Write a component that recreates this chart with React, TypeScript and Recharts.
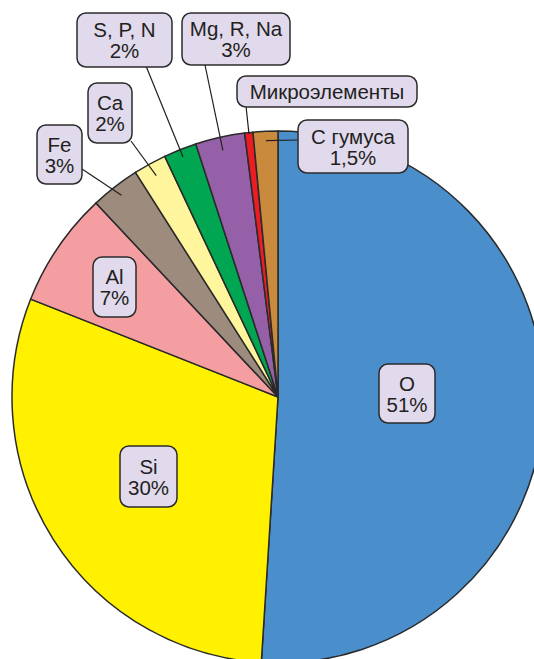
import { Cell, Pie, PieChart } from "recharts";

const ELEMENTS = ["O", "Si", "Al", "Fe", "Ca", "S, P, N", "Mg, R, Na", "Микроэлементы", "C гумуса"];
const SHARES = [51, 30, 7, 3, 2, 2, 3, 0.5, 1.5];
const SHARE_LABELS = ["51%", "30%", "7%", "3%", "2%", "2%", "3%", "", "1,5%"];
const COLORS = [
  "#4a8ecc",
  "#fff100",
  "#f59ea2",
  "#9d8b7e",
  "#fff59c",
  "#00a651",
  "#9660a8",
  "#ed1c24",
  "#c98a3e"
];

// label box placement (page px) and where the leader line leaves the box
const LABEL_LAYOUT = [
  { x: 379, y: 364, w: 56, h: 59, line: null },
  { x: 120, y: 446, w: 57, h: 61, line: null },
  { x: 93, y: 257, w: 43, h: 60, line: null },
  { x: 37, y: 125, w: 45, h: 59, line: { x: 82, y: 169, reach: 0.96 } },
  { x: 88, y: 83, w: 44, h: 60, line: { x: 131, y: 141, reach: 0.95 } },
  { x: 77, y: 13, w: 95, h: 54, line: { x: 146, y: 66, reach: 0.97 } },
  { x: 182, y: 13, w: 108, h: 52, line: { x: 205, y: 65, reach: 0.95 } },
  { x: 237, y: 76, w: 180, h: 31, line: { x: 246, y: 106, reach: 0.995 } },
  { x: 298, y: 120, w: 110, h: 53, line: { x: 298, y: 140, reach: 0.965 } }
];

const data = ELEMENTS.map((name, i) => ({ name, value: SHARES[i], share: SHARE_LABELS[i] }));

const RAD = Math.PI / 180;
const FONT = "Arial, 'Liberation Sans', Helvetica, sans-serif";

function renderLabel(props: any) {
  const { cx, cy, midAngle, outerRadius, index } = props;
  const box = LABEL_LAYOUT[index];
  const item = data[index];
  const lines = item.share ? [item.name, item.share] : [item.name];
  let leader = null;
  if (box.line) {
    const r = outerRadius * box.line.reach;
    const ex = cx + Math.cos(-midAngle * RAD) * r;
    const ey = cy + Math.sin(-midAngle * RAD) * r;
    leader = <line x1={box.line.x} y1={box.line.y} x2={ex} y2={ey} stroke="#231f20" strokeWidth={1.2} />;
  }
  const midY = box.y + box.h / 2;
  const lineGap = 21;
  const firstBaseline = midY - ((lines.length - 1) * lineGap) / 2 + 7.5;
  return (
    <g key={`lbl-${index}`}>
      {leader}
      <rect
        x={box.x}
        y={box.y}
        width={box.w}
        height={box.h}
        rx={9}
        ry={9}
        fill="#e1d9ec"
        stroke="#2b2b2b"
        strokeWidth={1.5}
      />
      {lines.map((t, k) => (
        <text
          key={k}
          x={box.x + box.w / 2}
          y={firstBaseline + k * lineGap}
          textAnchor="middle"
          fontFamily={FONT}
          fontSize={20.5}
          fill="#231f20"
        >
          {t}
        </text>
      ))}
    </g>
  );
}

export default function App() {
  return (
    <div style={{ position: "absolute", left: 0, top: 0, width: 534, height: 659, background: "#fff" }}>
      <PieChart width={534} height={659} margin={{ top: 0, right: 0, bottom: 0, left: 0 }}>
        <Pie
          data={data}
          dataKey="value"
          cx={278}
          cy={397}
          outerRadius={266}
          startAngle={90}
          endAngle={-270}
          stroke="#2a2a2a"
          strokeWidth={1.5}
          label={renderLabel}
          labelLine={false}
          isAnimationActive={false}
        >
          {data.map((d, i) => (
            <Cell key={d.name} fill={COLORS[i]} />
          ))}
        </Pie>
      </PieChart>
    </div>
  );
}
